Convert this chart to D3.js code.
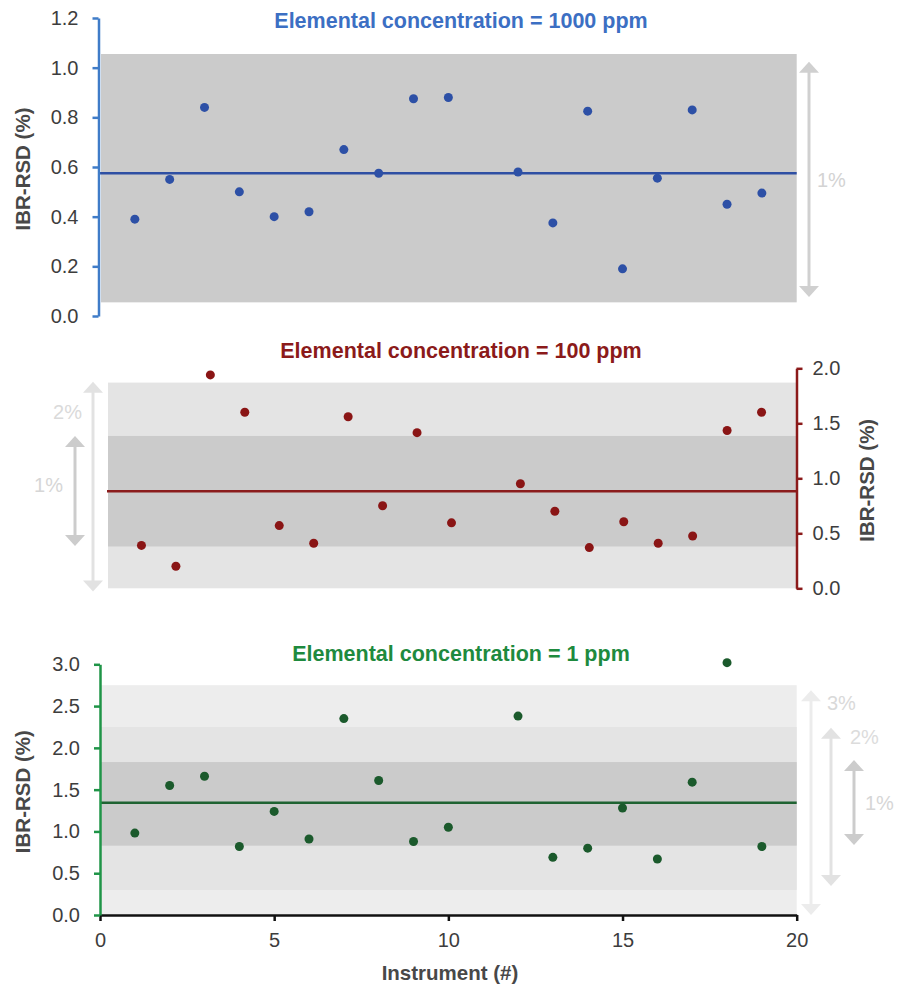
<!DOCTYPE html>
<html>
<head>
<meta charset="utf-8">
<script src="https://cdn.jsdelivr.net/npm/d3@7"></script>
<style>
  body { margin: 0; background: #fff; }
  svg text { font-family: "Liberation Sans", Arial, sans-serif; }
</style>
</head>
<body>
<div id="chart"></div>
<script>

// instruments measured (no #11 in any of the runs)
var instruments = [1, 2, 3, 4, 5, 6, 7, 8, 9, 10, 12, 13, 14, 15, 16, 17, 18, 19];

// IBR-RSD (%) per instrument, one array per concentration
var rsd1000 = [0.39, 0.55, 0.84, 0.50, 0.40, 0.42, 0.67, 0.575, 0.875, 0.88, 0.58, 0.375, 0.825, 0.19, 0.555, 0.83, 0.45, 0.495];
var rsd100 = [0.39, 0.20, 1.94, 1.60, 0.57, 0.41, 1.56, 0.75, 1.415, 0.595, 0.95, 0.70, 0.37, 0.605, 0.41, 0.475, 1.435, 1.60];
var rsd1 = [0.98, 1.55, 1.66, 0.82, 1.24, 0.91, 2.35, 1.61, 0.88, 1.05, 2.38, 0.69, 0.80, 1.28, 0.67, 1.59, 3.02, 0.82];

// mean of each run
var means = [0.575, 0.882, 1.343];

// shaded ranges [low, high] around the mean
var bands1000 = [[0.055, 1.055]];
var bands100 = [[0, 1.87], [0.38, 1.385]];
var bands1 = [[0, 2.75], [0.30, 2.25], [0.83, 1.83]];

// range arrows [low, high] and their labels
var arrowLabels1000 = ["1%"];
var arrows1000 = [[0.077, 1.024]];
var arrowLabels100 = ["2%", "1%"];
var arrows100 = [[-0.03, 1.878], [0.385, 1.385]];
var arrowLabels1 = ["3%", "2%", "1%"];
var arrows1 = [[0, 2.69], [0.347, 2.24], [0.837, 1.854]];

// titles and axis ticks
var titles = ["Elemental concentration = 1000 ppm", "Elemental concentration = 100 ppm", "Elemental concentration = 1 ppm"];
var yTicks1000 = [0, 0.2, 0.4, 0.6, 0.8, 1.0, 1.2];
var yTicks100 = [0, 0.5, 1.0, 1.5, 2.0];
var yTicks1 = [0, 0.5, 1.0, 1.5, 2.0, 2.5, 3.0];
var xTicks = [0, 5, 10, 15, 20];

var svg = d3.select("#chart")
  .append("svg")
    .attr("width", 900)
    .attr("height", 990);

// layout and colours per panel
var panels = [
  {
    values: rsd1000, mean: means[0], bands: bands1000, bandColors: ["#cbcbcb"],
    arrows: arrows1000, arrowLabels: arrowLabels1000,
    arrowX: [809], arrowColors: ["#d0d0d0"], labelColors: ["#d3d3d3"],
    labelX: [817], labelAnchor: ["start"], labelY: [0.548],
    title: titles[0], titleY: 28, titleColor: "#3c6fc3",
    axisColor: "#3f7cc8", lineColor: "#2e4fa3", dotColor: "#2d50a6",
    ticks: yTicks1000, yDomain: [0, 1.2], yRange: [316, 18], xRange: [100, 796.7],
    axisSide: "left", axisX: 98.5, yLabelX: 30
  },
  {
    values: rsd100, mean: means[1], bands: bands100, bandColors: ["#e4e4e4", "#cbcbcb"],
    arrows: arrows100, arrowLabels: arrowLabels100,
    arrowX: [93, 75], arrowColors: ["#e2e2e2", "#cccccc"], labelColors: ["#dadada", "#d6d6d6"],
    labelX: [82, 63], labelAnchor: ["end", "end"], labelY: [1.606, 0.94],
    title: titles[1], titleY: 358, titleColor: "#8b1a1a",
    axisColor: "#8b1a1a", lineColor: "#8b1c1c", dotColor: "#8a1515",
    ticks: yTicks100, yDomain: [0, 2], yRange: [588.3, 368.3], xRange: [107, 796],
    axisSide: "right", axisX: 796.5, yLabelX: 874
  },
  {
    values: rsd1, mean: means[2], bands: bands1, bandColors: ["#ededed", "#e4e4e4", "#cbcbcb"],
    arrows: arrows1, arrowLabels: arrowLabels1,
    arrowX: [811, 831, 854], arrowColors: ["#ececec", "#e2e2e2", "#cccccc"], labelColors: ["#d9d9d9", "#dcdcdc", "#d6d6d6"],
    labelX: [827, 850, 865], labelAnchor: ["start", "start", "start"], labelY: [2.532, 2.133, 1.336],
    title: titles[2], titleY: 661, titleColor: "#1e8a3e",
    axisColor: "#1f9447", lineColor: "#1f6332", dotColor: "#1b5a2c",
    ticks: yTicks1, yDomain: [0, 3], yRange: [915, 664.3], xRange: [100, 796.7],
    axisSide: "left", axisX: 100, yLabelX: 30
  }
];

// draws a vertical double headed arrow
function drawArrow(g, x, yTop, yBottom, color) {
  var headW = 10, headH = 11;
  g.append("line")
    .attr("x1", x).attr("x2", x)
    .attr("y1", yTop + headH - 1).attr("y2", yBottom - headH + 1)
    .attr("stroke", color)
    .attr("stroke-width", 3);
  g.append("path")
    .attr("d", "M" + x + "," + yTop + "L" + (x + headW) + "," + (yTop + headH) + "L" + (x - headW) + "," + (yTop + headH) + "Z")
    .attr("fill", color);
  g.append("path")
    .attr("d", "M" + x + "," + yBottom + "L" + (x + headW) + "," + (yBottom - headH) + "L" + (x - headW) + "," + (yBottom - headH) + "Z")
    .attr("fill", color);
}

panels.forEach(function(p) {
  var g = svg.append("g");

  var x = d3.scaleLinear().domain([0, 20]).range(p.xRange);
  var y = d3.scaleLinear().domain(p.yDomain).range(p.yRange);

  // shaded bands, widest first
  g.selectAll(".band")
    .data(p.bands)
  .enter().append("rect")
    .attr("class", "band")
    .attr("x", x(0) + 1)
    .attr("width", x(20) - x(0) - 1)
    .attr("y", function(d) { return y(d[1]); })
    .attr("height", function(d) { return y(Math.max(d[0], 0)) - y(d[1]); })
    .attr("fill", function(d, i) { return p.bandColors[i]; });

  // mean line
  g.append("line")
    .attr("x1", x(0)).attr("x2", x(20))
    .attr("y1", y(p.mean)).attr("y2", y(p.mean))
    .attr("stroke", p.lineColor)
    .attr("stroke-width", 2.5);

  // points
  g.selectAll(".dot")
    .data(p.values)
  .enter().append("circle")
    .attr("class", "dot")
    .attr("cx", function(d, i) { return x(instruments[i]); })
    .attr("cy", function(d) { return y(d); })
    .attr("r", 4.5)
    .attr("fill", p.dotColor);

  // y axis
  var yAxis = (p.axisSide === "left" ? d3.axisLeft(y) : d3.axisRight(y))
    .tickValues(p.ticks)
    .tickFormat(d3.format(".1f"))
    .tickSize(6)
    .tickSizeOuter(0)
    .tickPadding(p.axisSide === "left" ? 14 : 10);

  var ya = g.append("g")
    .attr("transform", "translate(" + p.axisX + ",0)")
    .call(yAxis);
  ya.select(".domain").attr("stroke", p.axisColor).attr("stroke-width", 2.5);
  ya.selectAll(".tick line").attr("stroke", p.axisColor).attr("stroke-width", 2.5);
  ya.selectAll(".tick text")
    .attr("fill", "#3d3d3d")
    .style("font-size", "20px")
    .style("font-family", "Liberation Sans, Arial, sans-serif");

  // y axis label
  var midY = (p.yRange[0] + p.yRange[1]) / 2;
  g.append("text")
    .attr("transform", "translate(" + p.yLabelX + "," + (midY + 2) + ") rotate(-90)")
    .attr("text-anchor", "middle")
    .attr("fill", "#484848")
    .style("font-size", "20.5px")
    .style("font-weight", "bold")
    .text("IBR-RSD (%)");

  // title
  g.append("text")
    .attr("x", 461)
    .attr("y", p.titleY)
    .attr("text-anchor", "middle")
    .attr("fill", p.titleColor)
    .style("font-size", "21.5px")
    .style("font-weight", "bold")
    .text(p.title);

  // range arrows with labels
  p.arrows.forEach(function(a, i) {
    drawArrow(g, p.arrowX[i], y(a[1]), y(a[0]), p.arrowColors[i]);
    g.append("text")
      .attr("x", p.labelX[i])
      .attr("y", y(p.labelY[i]))
      .attr("dy", "0.35em")
      .attr("text-anchor", p.labelAnchor[i])
      .attr("fill", p.labelColors[i])
      .style("font-size", "20px")
      .text(p.arrowLabels[i]);
  });

  // x axis only on the bottom panel
  if (p === panels[2]) {
    var xAxis = d3.axisBottom(x)
      .tickValues(xTicks)
      .tickSize(6)
      .tickSizeOuter(0)
      .tickPadding(12);
    var xa = g.append("g")
      .attr("transform", "translate(0," + p.yRange[0] + ")")
      .call(xAxis);
    xa.select(".domain").attr("stroke", "#111").attr("stroke-width", 2.5);
    xa.selectAll(".tick line").attr("stroke", "#111").attr("stroke-width", 2.5);
    xa.selectAll(".tick text")
      .attr("fill", "#3d3d3d")
      .style("font-size", "20px")
      .style("font-family", "Liberation Sans, Arial, sans-serif");

    g.append("text")
      .attr("x", 450)
      .attr("y", 980)
      .attr("text-anchor", "middle")
      .attr("fill", "#484848")
      .style("font-size", "20.5px")
      .style("font-weight", "bold")
      .text("Instrument (#)");

    // green y axis is drawn over the x axis start
    ya.raise();
  }
});

</script>
</body>
</html>
